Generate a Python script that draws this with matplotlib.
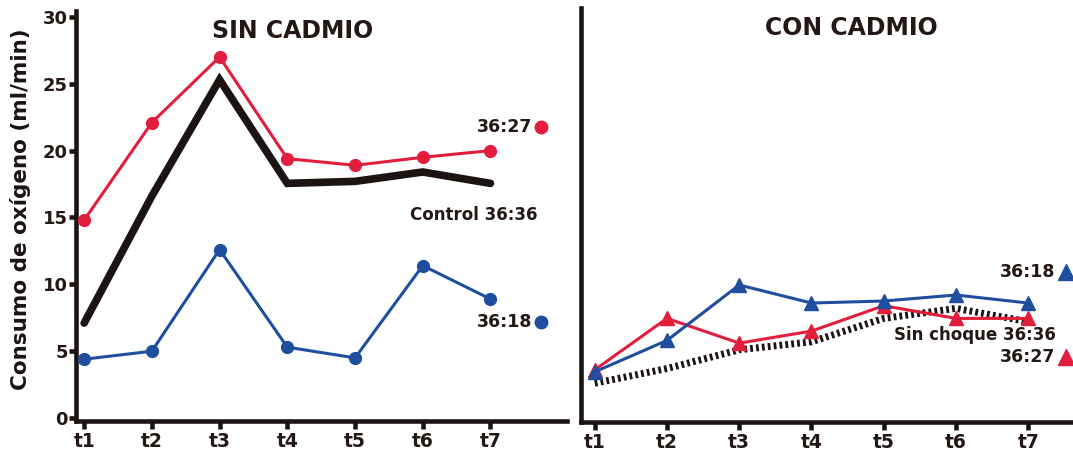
import matplotlib
matplotlib.use("Agg")
import matplotlib.pyplot as plt

plt.rcParams['font.family'] = ['DejaVu Sans']
plt.rcParams['font.weight'] = 'bold'

# Time points
tiempos = ["t1", "t2", "t3", "t4", "t5", "t6", "t7"]

# Sin cadmio
sin_cd_36_27 = [14.8, 22.1, 27.0, 19.4, 18.9, 19.5, 20.0]
sin_cd_control = [7.1, 16.6, 25.3, 17.55, 17.7, 18.4, 17.55]
sin_cd_36_18 = [4.4, 5.0, 12.6, 5.3, 4.5, 11.4, 8.9]

# Con cadmio
con_cd_36_18 = [3.45, 5.8, 9.95, 8.6, 8.75, 9.2, 8.6]
con_cd_36_27 = [3.6, 7.45, 5.6, 6.5, 8.4, 7.45, 7.45]
con_cd_sin_choque = [2.6, 3.7, 5.1, 5.7, 7.45, 8.2, 7.2]

ROJO = "#E31D3C"
AZUL = "#1F4E9F"
NEGRO = "#1C1412"
TEXTO = "#231815"

W, H = 1073, 453
fig = plt.figure(figsize=(W / 100, H / 100), dpi=100)
ax1 = fig.add_axes([76 / W, 32 / H, (567 - 76) / W, (421 - 11) / H])
ax2 = fig.add_axes([581 / W, 31 / H, (W - 581) / W, (422 - 8) / H])

x = list(range(1, len(tiempos) + 1))

for ax in (ax1, ax2):
    for side in ("top", "right"):
        ax.spines[side].set_visible(False)
    for side in ("left", "bottom"):
        ax.spines[side].set_linewidth(3.3)
        ax.spines[side].set_color(NEGRO)
    ax.set_xticks(x)
    ax.set_xticklabels(tiempos)
    ax.tick_params(axis="x", length=6, width=3.3, color=NEGRO, pad=2,
                   labelsize=13.5, labelcolor=TEXTO)
    for lbl in ax.get_xticklabels():
        lbl.set_fontweight("bold")

ax1.set_xlim(0.88, 8.13)
ax1.set_ylim(-0.22, 30.44)
ax1.set_yticks([0, 5, 10, 15, 20, 25, 30])
ax1.tick_params(axis="y", length=5, width=3.3, color=NEGRO, pad=1,
                labelsize=13, labelcolor=TEXTO)
for lbl in ax1.get_yticklabels():
    lbl.set_fontweight("bold")
ax1.set_ylabel("Consumo de oxígeno (ml/min)", fontsize=15.5, fontweight="bold",
               color=NEGRO)
ax1.yaxis.set_label_coords((31 - 76) / (567 - 76), (421 - 209) / (421 - 11))

ax2.set_xlim(0.81, 7.62)
ax2.set_ylim(-0.3, 30.67)
ax2.set_yticks([])

# Left panel
ax1.plot(x, sin_cd_control, color=NEGRO, lw=5.5, solid_joinstyle="miter",
         solid_capstyle="round", zorder=2)
ax1.plot(x, sin_cd_36_27, color=ROJO, lw=2.2, marker="o", ms=8.5, zorder=3)
ax1.plot(x, sin_cd_36_18, color=AZUL, lw=2.2, marker="o", ms=8.5, zorder=3)

fig.text(293 / W, 1 - 31 / H, "SIN CADMIO", ha="center", va="center",
         fontsize=17, fontweight="bold", color=TEXTO)

ax1.text(7.62, 21.8, "36:27", ha="right", va="center", fontsize=12.5,
         fontweight="bold", color=TEXTO)
ax1.plot([7.75], [21.8], "o", color=ROJO, ms=9, clip_on=False)
ax1.text(7.7, 15.2, "Control 36:36", ha="right", va="center", fontsize=12,
         fontweight="bold", color=TEXTO)
ax1.text(7.62, 7.2, "36:18", ha="right", va="center", fontsize=12.5,
         fontweight="bold", color=TEXTO)
ax1.plot([7.75], [7.2], "o", color=AZUL, ms=9, clip_on=False)

# Right panel
ax2.plot(x, con_cd_sin_choque, color=NEGRO, lw=5, dashes=(0.4, 0.45),
         dash_capstyle="butt", zorder=2)
ax2.plot(x, con_cd_36_27, color=ROJO, lw=2.2, marker="^", ms=10.5, zorder=3)
ax2.plot(x, con_cd_36_18, color=AZUL, lw=2.2, marker="^", ms=10.5, zorder=4)

fig.text(851 / W, 1 - 28 / H, "CON CADMIO", ha="center", va="center",
         fontsize=17, fontweight="bold", color=TEXTO)

ax2.text(7.38, 10.95, "36:18", ha="right", va="center", fontsize=12.5,
         fontweight="bold", color=TEXTO)
ax2.plot([7.52], [10.95], "^", color=AZUL, ms=11, clip_on=False)
ax2.text(7.38, 6.2, "Sin choque 36:36", ha="right", va="center", fontsize=12,
         fontweight="bold", color=TEXTO)
ax2.text(7.38, 4.55, "36:27", ha="right", va="center", fontsize=12.5,
         fontweight="bold", color=TEXTO)
ax2.plot([7.52], [4.55], "^", color=ROJO, ms=11, clip_on=False)

fig.savefig("out.png", dpi=100)
